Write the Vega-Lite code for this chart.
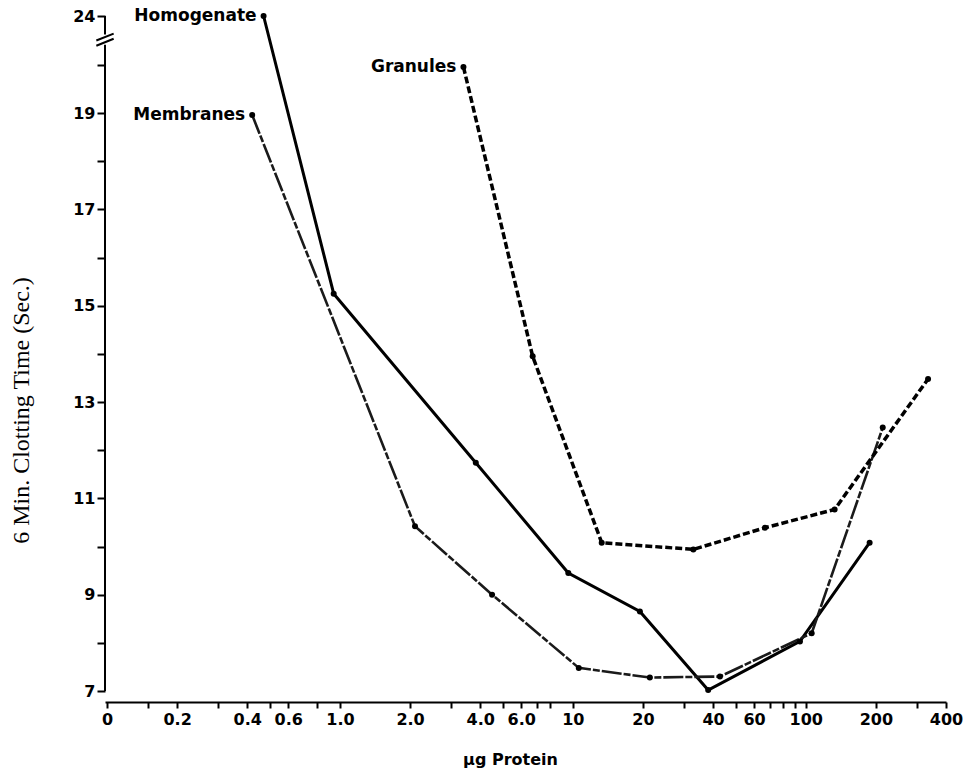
{
  "$schema": "https://vega.github.io/schema/vega-lite/v6.json",
  "autosize": {"type": "none"},
  "width": 841,
  "height": 675,
  "padding": {"left": 105, "top": 16, "right": 21, "bottom": 82},
  "background": "white",
  "config": {
    "view": {"stroke": null},
    "axis": {
      "grid": false,
      "domainColor": "black",
      "domainWidth": 2,
      "tickColor": "black",
      "tickWidth": 2,
      "labelColor": "black",
      "titleColor": "black",
      "labelFont": "DejaVu Sans",
      "labelFontWeight": "bold",
      "labelFontSize": 16
    }
  },
  "datasets": {
    "curves": [
      {"series": "Homogenate", "protein": 0.47, "time": 24, "label": "Homogenate"},
      {"series": "Homogenate", "protein": 0.94, "time": 15.25},
      {"series": "Homogenate", "protein": 3.83, "time": 11.74},
      {"series": "Homogenate", "protein": 9.56, "time": 9.45},
      {"series": "Homogenate", "protein": 19.4, "time": 8.65},
      {"series": "Homogenate", "protein": 38.1, "time": 7.02},
      {"series": "Homogenate", "protein": 94.4, "time": 8.03},
      {"series": "Homogenate", "protein": 188, "time": 10.08},
      {"series": "Membranes", "protein": 0.42, "time": 18.96, "label": "Membranes"},
      {"series": "Membranes", "protein": 2.1, "time": 10.42},
      {"series": "Membranes", "protein": 4.5, "time": 9.0},
      {"series": "Membranes", "protein": 10.6, "time": 7.48},
      {"series": "Membranes", "protein": 21.4, "time": 7.28},
      {"series": "Membranes", "protein": 42.8, "time": 7.3},
      {"series": "Membranes", "protein": 106, "time": 8.2},
      {"series": "Membranes", "protein": 214, "time": 12.47},
      {"series": "Granules", "protein": 3.39, "time": 19.96, "label": "Granules"},
      {"series": "Granules", "protein": 6.72, "time": 13.95},
      {"series": "Granules", "protein": 13.3, "time": 10.08},
      {"series": "Granules", "protein": 32.9, "time": 9.94},
      {"series": "Granules", "protein": 66.8, "time": 10.39},
      {"series": "Granules", "protein": 133, "time": 10.77},
      {"series": "Granules", "protein": 335, "time": 13.48}
    ],
    "axisparts": [
      {"part": "y axis line, lower", "protein": 0.098, "time": 7, "time2": 21.65},
      {"part": "y axis line, upper", "protein": 0.098, "time": 22.5, "time2": 24}
    ],
    "axisbreak": [
      {"part": "axis break", "protein": 0.098, "time": 22.07}
    ]
  },
  "encoding": {
    "x": {
      "field": "protein",
      "type": "quantitative",
      "scale": {"type": "log", "domain": [0.098, 400], "nice": false},
      "axis": {
        "offset": 11,
        "tickSize": 6,
        "labelPadding": 3,
        "labelOverlap": false,
        "labelFlush": false,
        "values": [0.1, 0.15, 0.2, 0.3, 0.4, 0.5, 0.6, 0.8, 1, 2, 3, 4, 5, 6, 7, 8, 10, 20, 30, 40, 50, 60, 70, 80, 90, 100, 200, 300, 400],
        "labelExpr": "datum.value < 0.12 ? '0' : (datum.value == 0.2 || datum.value == 0.4 || datum.value == 0.6 || datum.value == 1 || datum.value == 2 || datum.value == 4 || datum.value == 6) ? format(datum.value, '.1f') : (datum.value == 10 || datum.value == 20 || datum.value == 40 || datum.value == 60 || datum.value == 100 || datum.value == 200 || datum.value == 400) ? format(datum.value, 'd') : ''",
        "title": "µg Protein",
        "titleFont": "DejaVu Sans",
        "titleFontWeight": "bold",
        "titleFontSize": 16,
        "titlePadding": 24,
        "titleX": 405
      }
    },
    "y": {
      "field": "time",
      "type": "quantitative",
      "scale": {"domain": [7, 20, 24], "range": [675, 49, 0], "zero": false, "nice": false},
      "axis": {
        "domain": false,
        "tickSize": 8,
        "labelPadding": 2,
        "labelOverlap": false,
        "values": [7, 8, 9, 10, 11, 12, 13, 14, 15, 16, 17, 18, 19, 20, 24],
        "labelExpr": "(datum.value == 24 || (datum.value <= 19 && datum.value % 2 == 1)) ? datum.label : ''",
        "title": "6 Min. Clotting Time (Sec.)",
        "titleFont": "Liberation Serif",
        "titleFontWeight": "normal",
        "titleFontSize": 24,
        "titleX": -84,
        "titleY": 394,
        "titleBaseline": "middle"
      }
    }
  },
  "layer": [
    {
      "data": {"name": "axisparts"},
      "mark": {"type": "rule", "color": "black", "strokeWidth": 2},
      "encoding": {"y2": {"field": "time2"}}
    },
    {
      "data": {"name": "axisbreak"},
      "mark": {"type": "point", "shape": "M-1,0.1L1,-0.7M-1,0.7L1,-0.1", "filled": false, "color": "black", "strokeWidth": 2, "size": 300, "opacity": 1}
    },
    {
      "data": {"name": "curves"},
      "transform": [{"filter": "datum.series == 'Homogenate'"}],
      "mark": {"type": "line", "color": "black", "strokeWidth": 3}
    },
    {
      "data": {"name": "curves"},
      "transform": [{"filter": "datum.series == 'Membranes'"}],
      "mark": {"type": "line", "color": "#1a1a1a", "strokeWidth": 2.6, "strokeDash": [20, 2, 7, 2]}
    },
    {
      "data": {"name": "curves"},
      "transform": [{"filter": "datum.series == 'Granules'"}],
      "mark": {"type": "line", "color": "black", "strokeWidth": 3.5, "strokeDash": [7, 3]}
    },
    {
      "data": {"name": "curves"},
      "mark": {"type": "point", "filled": true, "color": "black", "size": 36, "opacity": 1}
    },
    {
      "data": {"name": "curves"},
      "transform": [{"filter": "isValid(datum.label)"}],
      "mark": {"type": "text", "align": "right", "baseline": "middle", "dx": -7, "font": "DejaVu Sans", "fontWeight": "bold", "fontSize": 17, "color": "black"},
      "encoding": {"text": {"field": "label"}}
    }
  ]
}
